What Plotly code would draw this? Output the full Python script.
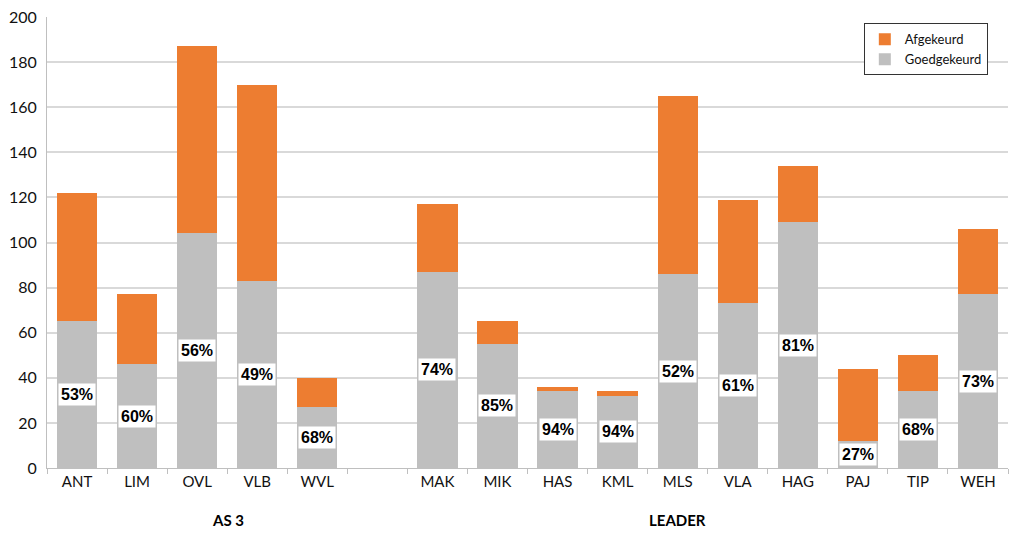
import plotly.graph_objects as go

categories = ["ANT", "LIM", "OVL", "VLB", "WVL", " ", "MAK", "MIK", "HAS", "KML",
              "MLS", "VLA", "HAG", "PAJ", "TIP", "WEH"]
goedgekeurd = [65, 46, 104, 83, 27, None, 87, 55, 34, 32, 86, 73, 109, 12, 34, 77]
afgekeurd = [57, 31, 83, 87, 13, None, 30, 10, 2, 2, 79, 46, 25, 32, 16, 29]
groups = ["AS 3", "LEADER"]

ORANGE = "#ED7D31"
GREY = "#BFBFBF"

fig = go.Figure()
fig.add_trace(go.Bar(x=categories, y=goedgekeurd, name="Goedgekeurd", legendgroup="g",
                     marker=dict(color=GREY, line=dict(width=0))))
fig.add_trace(go.Bar(x=categories, y=afgekeurd, name="Afgekeurd", legendgroup="a",
                     marker=dict(color=ORANGE, line=dict(width=0))))

for c, g, a in zip(categories, goedgekeurd, afgekeurd):
    if g is None:
        continue
    pct = round(100 * g / (g + a))
    fig.add_annotation(x=c, y=g / 2, xref="x", yref="y", text=f"<b>{pct}%</b>",
                       showarrow=False, bgcolor="white", borderpad=2,
                       font=dict(family="Liberation Sans Narrow, Liberation Sans, Arial",
                                 size=16, color="black"))

fig.add_annotation(x=0.17, y=-0.115, xref="paper", yref="paper", text="<b>" + groups[0] + "</b>",
                   showarrow=False, yanchor="middle",
                   font=dict(family="Lato, Open Sans", size=15, color="black"))
fig.add_annotation(x=0.6875, y=-0.115, xref="paper", yref="paper", text="<b>" + groups[1] + "</b>",
                   showarrow=False, yanchor="middle",
                   font=dict(family="Lato, Open Sans", size=15, color="black"))

fig.update_layout(
    barmode="stack",
    bargap=0.33,
    width=1024, height=538,
    margin=dict(l=47, r=16, t=17, b=70),
    plot_bgcolor="white", paper_bgcolor="white",
    font=dict(family="Lato, Open Sans, sans-serif", size=15, color="#111"),
    showlegend=True,
    legend=dict(x=0.979, y=0.986, xanchor="right", yanchor="top",
                bgcolor="white", bordercolor="#333", borderwidth=1,
                font=dict(size=13, color="#111"), traceorder="reversed",
                itemwidth=30, tracegroupgap=7),
    xaxis=dict(type="category", categoryorder="array", categoryarray=categories,
               tickson="boundaries", ticks="outside", ticklen=5, tickcolor="#BFBFBF",
               showline=True, linecolor="#BFBFBF", linewidth=1, showgrid=False,
               automargin=False, tickfont=dict(size=15, color="#111")),
    yaxis=dict(range=[0, 200], dtick=20, showgrid=True, gridcolor="#D9D9D9",
               gridwidth=1.5, showline=True, linecolor="#BFBFBF", zeroline=False,
               automargin=False, ticks="", ticklabelstandoff=6,
               tickfont=dict(size=16, color="#111")),
)

fig.write_html("out.html", config={"displayModeBar": False},
               post_script="document.body.style.margin='0';")
